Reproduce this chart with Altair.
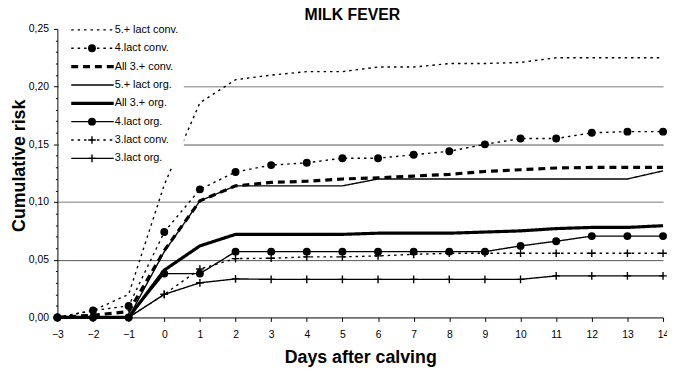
import altair as alt
import pandas as pd

# ---------------- data ----------------
days = list(range(-3, 15))

series_names = [
    "5.+ lact conv.", "4.lact conv.", "All 3.+ conv.", "5.+ lact org.",
    "All 3.+ org.", "4.lact org.", "3.lact conv.", "3.lact org.",
]

lact5_conv = [0.0, 0.006, 0.020, 0.115, 0.186, 0.206, 0.210, 0.213, 0.213,
              0.217, 0.217, 0.220, 0.220, 0.221, 0.225, 0.225, 0.225, 0.225]
lact4_conv = [0.0, 0.006, 0.010, 0.074, 0.111, 0.126, 0.132, 0.134, 0.138,
              0.138, 0.141, 0.144, 0.150, 0.155, 0.155, 0.160, 0.161, 0.161]
all3_conv = [0.0, 0.002, 0.005, 0.058, 0.101, 0.114, 0.117, 0.118, 0.120,
             0.121, 0.1225, 0.124, 0.1265, 0.128, 0.1295, 0.130, 0.130, 0.130]
lact5_org = [0.0, 0.0, 0.0, 0.057, 0.101, 0.114, 0.114, 0.114, 0.114,
             0.120, 0.120, 0.120, 0.120, 0.120, 0.120, 0.120, 0.120, 0.127]
all3_org = [0.0, 0.0, 0.0, 0.041, 0.062, 0.072, 0.072, 0.072, 0.072,
            0.073, 0.073, 0.073, 0.074, 0.075, 0.077, 0.078, 0.078, 0.0795]
lact4_org = [0.0, 0.0, 0.0, 0.038, 0.038, 0.057, 0.057, 0.057, 0.057,
             0.057, 0.057, 0.057, 0.057, 0.062, 0.066, 0.0705, 0.0705, 0.0705]
lact3_conv = [0.0, 0.0, 0.0, 0.020, 0.042, 0.051, 0.0513, 0.0525, 0.0525,
              0.0533, 0.0547, 0.0556, 0.0556, 0.0556, 0.0556, 0.0556, 0.0556, 0.0556]
lact3_org = [0.0, 0.0, 0.0, 0.020, 0.030, 0.0334, 0.033, 0.033, 0.033,
             0.033, 0.033, 0.033, 0.033, 0.033, 0.036, 0.036, 0.036, 0.036]

series_values = [lact5_conv, lact4_conv, all3_conv, lact5_org,
                 all3_org, lact4_org, lact3_conv, lact3_org]

rows = []
for name, vals in zip(series_names, series_values):
    for d, v in zip(days, vals):
        rows.append({"series": name, "day": d, "risk": v})
df = pd.DataFrame(rows)
leg_df = pd.DataFrame({"series": series_names})

# ---------------- styles ----------------
dash_range = [[2.5, 4], [2.5, 4], [7, 5], [1, 0], [1, 0], [1, 0], [2.5, 4], [1, 0]]
thick_series = ["All 3.+ conv.", "All 3.+ org."]
thin_series = [s for s in series_names if s not in thick_series]
circle_series = ["4.lact conv.", "4.lact org."]
plus_series = ["3.lact conv.", "3.lact org."]
PLUS = "M-1,0H1M0,-1V1"
FONT = "Liberation Sans"

dash_enc = alt.StrokeDash("series:N",
                          scale=alt.Scale(domain=series_names, range=dash_range),
                          legend=None)

xscale = alt.Scale(domain=[-3, 14], nice=False, zero=False)
yscale = alt.Scale(domain=[0, 0.25], nice=False)

major = "round(datum.value*100) % 5 == 0"
x_axis = alt.Axis(values=days, grid=False, title="Days after calving",
                  titleFontSize=18, titleFontWeight="bold", titleFont=FONT,
                  titleColor="black", titlePadding=9,
                  labelFont=FONT, labelFontSize=10.5, labelColor="black",
                  labelPadding=8, tickSize=4, tickColor="black",
                  domainColor="black", labelFlush=False)
y_axis = alt.Axis(values=[round(i * 0.01, 2) for i in range(26)],
                  labelExpr=f"{major} ? replace(format(datum.value, '.2f'), '.', ',') : ''",
                  title="Cumulative risk", titleFontSize=18, titleFontWeight="bold",
                  titleFont=FONT, titleColor="black", titlePadding=0, titleY=138,
                  labelFont=FONT, labelFontSize=10.5, labelColor="black",
                  labelPadding=5, tickColor="black", domainColor="black",
                  tickSize={"condition": {"test": major, "value": 4}, "value": 2},
                  grid=True,
                  gridOpacity={"condition": {"test": f"{major} && datum.value > 0.001 && datum.value < 0.249", "value": 1}, "value": 0},
                  gridColor={"condition": {"test": "round(datum.value*100) % 10 == 0", "value": "#a8a8a8"}, "value": "#555555"},
                  gridWidth={"condition": {"test": "round(datum.value*100) % 10 == 0", "value": 1.6}, "value": 1})

X = alt.X("day:Q", scale=xscale, axis=x_axis)
Y = alt.Y("risk:Q", scale=yscale, axis=y_axis)

base = alt.Chart(df)
thin_lines = base.transform_filter(
    alt.FieldOneOfPredicate(field="series", oneOf=thin_series)
).mark_line(color="black", strokeWidth=1.4).encode(x=X, y=Y, detail="series:N", strokeDash=dash_enc)
thick_lines = base.transform_filter(
    alt.FieldOneOfPredicate(field="series", oneOf=thick_series)
).mark_line(color="black", strokeWidth=3.2).encode(x=X, y=Y, detail="series:N", strokeDash=dash_enc)
circles = base.transform_filter(
    alt.FieldOneOfPredicate(field="series", oneOf=circle_series)
).mark_point(shape="circle", filled=True, size=64, color="black", opacity=1).encode(x=X, y=Y)
pluses = base.transform_filter(
    alt.FieldOneOfPredicate(field="series", oneOf=plus_series)
).mark_point(shape=PLUS, filled=False, size=60, color="black", strokeWidth=1.4, opacity=1).encode(x=X, y=Y)

main = alt.layer(thin_lines, thick_lines, circles, pluses)

# ---------------- legend (drawn inside plot, top-left) ----------------
LY = alt.Y("series:N", sort=series_names,
           scale=alt.Scale(type="point", domain=series_names, range=[1, 131], padding=0),
           axis=None)
lbase = alt.Chart(leg_df)
leg_bg = alt.Chart(pd.DataFrame({"k": [0]})).mark_rect(fill="white", strokeWidth=0).encode(
    x=alt.value(1.5), x2=alt.value(128), y=alt.value(0), y2=alt.value(139))
leg_thin = lbase.transform_filter(
    alt.FieldOneOfPredicate(field="series", oneOf=thin_series)
).mark_rule(color="black", strokeWidth=1.4).encode(
    x=alt.value(14), x2=alt.value(57), y=LY, strokeDash=dash_enc)
leg_thick = lbase.transform_filter(
    alt.FieldOneOfPredicate(field="series", oneOf=thick_series)
).mark_rule(color="black", strokeWidth=3.2).encode(
    x=alt.value(14), x2=alt.value(57), y=LY, strokeDash=dash_enc)
leg_circ = lbase.transform_filter(
    alt.FieldOneOfPredicate(field="series", oneOf=circle_series)
).mark_point(shape="circle", filled=True, size=64, color="black", opacity=1).encode(
    x=alt.value(35), y=LY)
leg_plus = lbase.transform_filter(
    alt.FieldOneOfPredicate(field="series", oneOf=plus_series)
).mark_point(shape=PLUS, filled=False, size=60, color="black", strokeWidth=1.4, opacity=1).encode(
    x=alt.value(35), y=LY)
leg_text = lbase.mark_text(align="left", baseline="middle", font=FONT, fontSize=11,
                           color="black").encode(x=alt.value(58), y=LY, text="series:N")

legend = alt.layer(leg_bg, leg_thin, leg_thick, leg_circ, leg_plus, leg_text)

chart = alt.layer(main, legend).resolve_scale(y="independent").properties(
    width=613, height=292,
    padding={"left": 50, "top": 19, "right": 4, "bottom": 50},
    autosize=alt.AutoSizeParams(type="none"),
    title=alt.TitleParams("MILK FEVER", fontSize=16, fontWeight="bold", font=FONT,
                          anchor="middle", offset=1, dx=-8, color="black"),
    background="white",
).configure_view(stroke=None)

chart.save("out.html", embed_options={"renderer": "svg", "actions": False})
